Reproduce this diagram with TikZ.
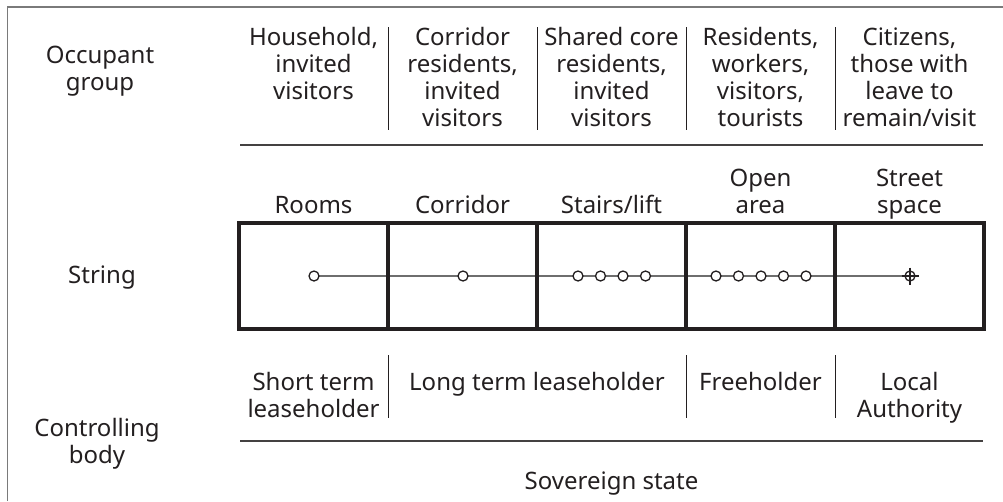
\documentclass[tikz,border=0pt]{standalone}
\usepackage{fontspec}
\setmainfont{Noto Sans}
\definecolor{ink}{HTML}{231F20}
\definecolor{framegrey}{HTML}{7A7A7A}
\definecolor{stringgrey}{HTML}{6E6E6E}
\begin{document}
\begin{tikzpicture}[x=1pt,y=-1pt,
  lbl/.style={inner sep=0pt,outer sep=0pt,align=center,text=ink,
    font=\fontsize{24}{27}\selectfont,anchor=base},
  sep/.style={draw=ink,line width=1pt},
  rule/.style={draw=ink!85,line width=1.4pt},
  boxline/.style={draw=ink,line width=3.2pt},
  strline/.style={draw=stringgrey,line width=1.8pt},
  bead/.style={circle,draw=ink,fill=white,line width=1.3pt,minimum size=10pt,inner sep=0pt}]
\useasboundingbox (0,0) rectangle (1003,501);
% frame
\draw[framegrey,line width=1.3pt] (7.5,501) -- (7.5,7) -- (1003,7);
% row labels (base anchor = baseline of last line)
\node[lbl] (occ) at (100,90) {Occupant\\group};
\node[lbl] (str) at (102,283) {String};
\node[lbl] (ctl) at (97,463) {Controlling\\body};
% occupant groups
\node[lbl] (g1) at (313.5,99) {Household,\\invited\\visitors};
\node[lbl] (g2) at (462.5,126) {Corridor\\residents,\\invited\\visitors};
\node[lbl] (g3) at (611.5,126) {Shared core\\residents,\\invited\\visitors};
\node[lbl] (g4) at (760.5,126) {Residents,\\workers,\\visitors,\\tourists};
\node[lbl] (g5) at (909.5,126) {Citizens,\\those with\\leave to\\remain/visit};
\foreach \x/\n in {388/a,537/b,686/c,835/d}{
  \coordinate (ts\n) at (\x,27); \coordinate (tb\n) at (\x,130);
  \draw[sep] (ts\n) -- (tb\n);}
\coordinate (r1l) at (240,145); \coordinate (r1r) at (983,145);
\draw[rule] (r1l) -- (r1r);
% space headers
\node[lbl] (h1) at (313.5,213) {Rooms};
\node[lbl] (h2) at (462.5,213) {Corridor};
\node[lbl] (h3) at (611.5,213) {Stairs/lift};
\node[lbl] (h4) at (760.5,213) {Open\\area};
\node[lbl] (h5) at (909.5,213) {Street\\space};
% string line
\coordinate (s0) at (314,276); \coordinate (s1) at (918,276);
\draw[strline] (s0) -- (s1);
% box
\draw[boxline] (239,223) rectangle (984,329);
\foreach \x/\n in {388/a,537/b,686/c,835/d}{
  \coordinate (bt\n) at (\x,223); \coordinate (bb\n) at (\x,329);
  \draw[boxline] (bt\n) -- (bb\n);}
% beads
\node[bead] (b1) at (314,276) {};
\node[bead] (b2) at (463,276) {};
\foreach \x [count=\i] in {578,600.5,623,645.5}{\node[bead] (st\i) at (\x,276) {};}
\foreach \x [count=\i] in {716,738.5,761,783.5,806}{\node[bead] (oa\i) at (\x,276) {};}
% crosshair
\node[circle,draw=ink,line width=1.3pt,minimum size=10pt,inner sep=0pt] (cx) at (910,276) {};
\draw[ink,line width=1.3pt] ([yshift=8.5pt]cx.center) -- ([yshift=-8.5pt]cx.center);
\draw[ink,line width=1.3pt] ([xshift=-8.5pt]cx.center) -- ([xshift=8.5pt]cx.center);
% controlling bodies
\node[lbl] (c1) at (313.5,417) {Short term\\leaseholder};
\node[lbl] (c2) at (537,390) {Long term leaseholder};
\node[lbl] (c3) at (760.5,390) {Freeholder};
\node[lbl] (c4) at (909.5,417) {Local\\Authority};
\foreach \x/\n in {388/a,686/c,835/d}{
  \coordinate (cs\n) at (\x,355); \coordinate (ce\n) at (\x,418);
  \draw[sep] (cs\n) -- (ce\n);}
\coordinate (r2l) at (240,441); \coordinate (r2r) at (983,441);
\draw[rule] (r2l) -- (r2r);
\node[lbl] (sov) at (611.5,489) {Sovereign state};
\end{tikzpicture}
\end{document}
